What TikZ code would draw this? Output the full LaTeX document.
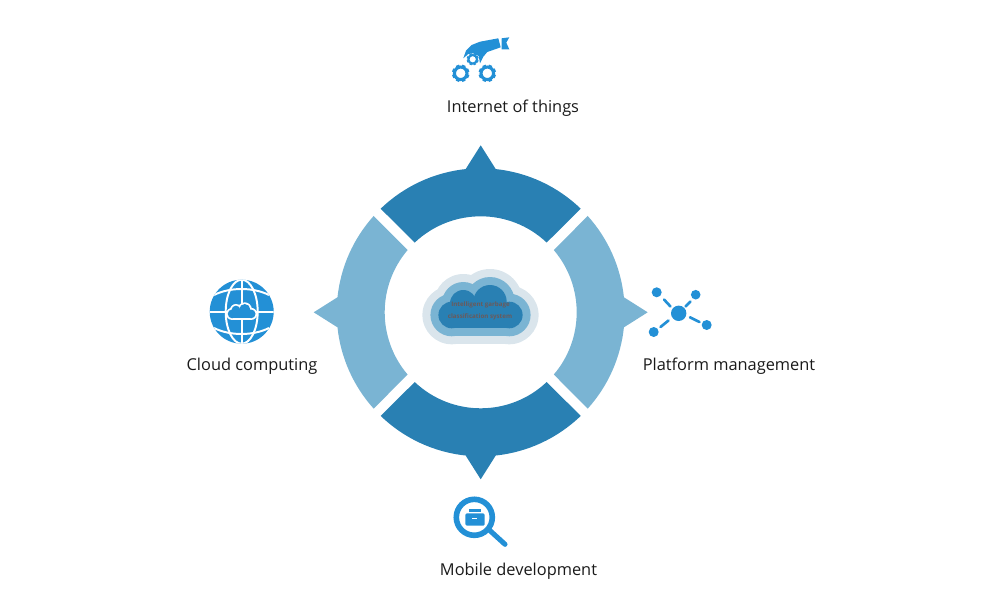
\documentclass[tikz,border=0pt]{standalone}
\usepackage{fontspec}
\setmainfont{Open Sans}
\definecolor{cDark} {HTML}{2980B3}
\definecolor{cLight}{HTML}{7AB4D3}
\definecolor{cPale} {HTML}{DAE5EC}
\definecolor{cIcon} {HTML}{2390D6}
\definecolor{ink}   {HTML}{1A1A1A}
\definecolor{cSmall}{HTML}{6B5A5A}
% ring piece: direction, outer half angle, inner half angle, colour
\newcommand{\ringpiece}[4]{%
  \fill[#4,shift={(480.7,-312.3)},rotate=#1]
    (-#2:144) arc[start angle=-#2,end angle=-6,radius=144]
    -- (167,0) -- (6:144) arc[start angle=6,end angle=#2,radius=144]
    -- (#3:96) arc[start angle=#3,end angle=-#3,radius=96] -- cycle;%
}
% cloud from round lobes: x, y, scale, growth, colour
\newcommand{\cloudlobes}[5]{%
  \begin{scope}[shift={(#1,#2)},scale=#3]
    \fill[#5] (-29,-2.7) circle[radius=13.3+#4];
    \fill[#5] (28.6,-2.7) circle[radius=13.3+#4];
    \fill[#5] (-17.4,9) circle[radius=13.3+#4];
    \fill[#5] (9.3,10.6) circle[radius=16.7+#4];
    \fill[#5] (-29,-16-#4) rectangle (28.6,9);
  \end{scope}%
}
% small gear: x, y, radius
\newcommand{\gearicon}[3]{%
  \foreach \a in {0,45,...,315}
    \fill[cIcon,shift={(#1,#2)},rotate=\a+22.5] (#3*0.8,-#3*0.2) rectangle (#3,#3*0.2);
  \draw[cIcon,line width=#3*0.25pt] (#1,#2) circle[radius=#3*0.72];%
}

\begin{document}
\begin{tikzpicture}[x=0.25mm,y=0.25mm,
    lbl/.style={font=\fontsize{11.65}{14}\selectfont,text=ink,anchor=base,inner sep=0pt},
    small/.style={font=\fontsize{4.4}{5}\selectfont\bfseries,text=cSmall,inner sep=0pt},
    spoke/.style={cIcon,line width=1.9pt,line cap=round},
    grid/.style={white,line width=1.4pt},
  ]

% fixed bounding box
\path (0,0) rectangle (1000,-614);

% ---- ring ------------------------------------------------------------------
\ringpiece{90}{44}{43.4}{cDark}
\ringpiece{-90}{44}{43.4}{cDark}
\ringpiece{0}{42}{40.4}{cLight}
\ringpiece{180}{42}{40.4}{cLight}

% ---- centre cloud ----------------------------------------------------------
\cloudlobes{480.7}{-312.3}{1}{16}{cPale}
\cloudlobes{480.7}{-312.3}{1}{8}{cLight}
\cloudlobes{480.7}{-312.3}{1}{0}{cDark}
\node[small] (garbage) at (480.5,-305) {Intelligent garbage};
\node[small] (system) at (480,-317.3) {classification system};

% ---- internet of things ----------------------------------------------------
\gearicon{460.7}{-73.3}{8.7}
\gearicon{487.3}{-73.3}{8.7}
\gearicon{472.7}{-59.3}{6}
\fill[cIcon] (463.3,-58.3) -- (466,-50.7) -- (471.7,-45) -- (480,-41.7)
  -- (498.3,-38.3) -- (500.7,-47.3) -- (487.3,-52) -- (483.3,-56.7) -- (480,-63.3)
  -- (478.7,-56) -- (473.3,-53.3) -- (468.3,-54) -- cycle;
\fill[cIcon] (501.7,-38.3) -- (509.3,-37.3) -- (506.3,-42.7) -- (509.3,-49.3) -- (501.7,-49.3) -- cycle;
\node[lbl] (things) at (513,-112) {Internet of things};

% ---- cloud computing -------------------------------------------------------
\fill[cIcon] (241.7,-311.7) circle[radius=32];
\begin{scope}
  \clip (241.7,-311.7) circle[radius=32];
  \draw[grid] (241.7,-311.7) ellipse[x radius=16,y radius=32];
  \draw[grid] (241.7,-279) -- (241.7,-344);
  \draw[grid] (209,-311.7) -- (274,-311.7);
  \draw[grid] (214,-295) .. controls (230,-287) and (253,-287) .. (269,-295);
  \draw[grid] (214,-328) .. controls (230,-336) and (253,-336) .. (269,-328);
\end{scope}
\cloudlobes{241.7}{-313}{0.33}{5}{white}
\cloudlobes{241.7}{-313}{0.33}{0}{cIcon}
\node[lbl] (computing) at (252,-370) {Cloud computing};

% ---- platform management ---------------------------------------------------
\fill[cIcon] (678.7,-313.3) circle[radius=7.7];
\fill[cIcon] (656.7,-292.3) circle[radius=5];
\fill[cIcon] (695.7,-294.7) circle[radius=4.8];
\fill[cIcon] (706.7,-325) circle[radius=5];
\fill[cIcon] (653.7,-332) circle[radius=5];
\draw[spoke] (664,-299.5) -- (670.5,-306.5);
\draw[spoke] (685.5,-306.5) -- (690.5,-301.5);
\draw[spoke] (690,-317.3) -- (699.5,-322);
\draw[spoke] (668.5,-320.5) -- (660.5,-327);
\node[lbl] (platform) at (729,-370) {Platform management};

% ---- mobile development ----------------------------------------------------
\draw[cIcon,line width=4pt] (474.3,-517.3) circle[radius=18];
\draw[cIcon,line width=3.6pt,line cap=round] (489.3,-530) -- (505,-544.3);
\fill[cIcon,rounded corners=1pt] (465.3,-513.3) rectangle (484.7,-525.7);
\fill[cIcon] (469.3,-508.8) rectangle (480.7,-512.3);
\fill[white] (471.7,-517.6) rectangle (476.7,-519);
\node[lbl] (mobile) at (518.5,-575) {Mobile development};

\end{tikzpicture}
\end{document}
